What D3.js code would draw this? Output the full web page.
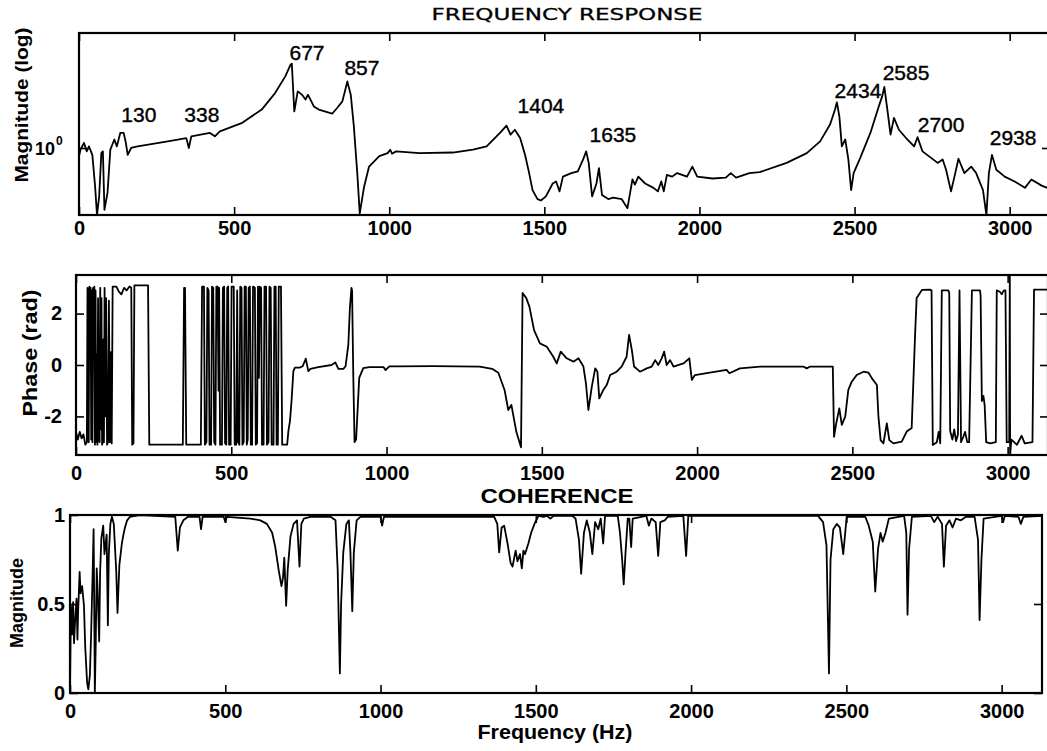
<!DOCTYPE html>
<html><head><meta charset="utf-8">
<script src="https://cdn.jsdelivr.net/npm/d3@7"></script>
<style>body{margin:0;background:#fff}svg{display:block}</style>
</head><body>
<svg id="chart" width="1047" height="751"></svg>
<script>
// ---------------- DATA ----------------
const freqTicks = [0, 500, 1000, 1500, 2000, 2500, 3000];
const phaseTicks = [-2, 0, 2];
const coherenceTicks = [0, 0.5, 1];
const magnitudeTicks = [1];

// Frequency response magnitude [Hz, magnitude]
const magnitude = [
 [0,0.86],[5,0.97],[16,1.10],[25,0.94],[32,1.03],[43,0.88],[52,0.49],[58,0.29],[65,0.41],[72,0.91],
 [77,0.94],[82,0.32],[92,0.44],[101,0.97],[114,1.17],[122,1.03],[133,1.32],[144,1.32],[151,1.10],[157,0.88],
 [168,1.0],[189,1.03],[286,1.13],[346,1.20],[354,1.0],[362,1.24],[422,1.32],[438,1.24],[454,1.36],[524,1.58],
 [589,2.03],[632,2.75],[665,3.74],[682,4.64],[686,4.73],[694,1.96],[705,2.84],[719,2.67],[730,2.44],[738,2.67],
 [757,2.15],[773,2.03],[816,1.88],[832,2.09],[849,2.36],[865,3.41],[876,2.67],[886,1.49],[897,0.63],[905,0.30],
 [919,0.49],[935,0.71],[968,0.86],[995,0.91],[1003,0.97],[1009,0.90],[1022,0.94],[1097,0.91],[1205,0.92],[1270,0.97],
 [1314,1.03],[1357,1.32],[1378,1.51],[1391,1.28],[1405,1.40],[1422,1.2],[1438,0.88],[1451,0.63],[1462,0.46],[1478,0.39],
 [1489,0.38],[1505,0.41],[1527,0.52],[1538,0.54],[1549,0.45],[1560,0.59],[1587,0.63],[1608,0.65],[1625,0.81],[1635,0.94],
 [1643,0.76],[1654,0.41],[1668,0.52],[1676,0.69],[1686,0.42],[1706,0.39],[1722,0.40],[1749,0.39],[1768,0.33],[1784,0.56],
 [1792,0.51],[1803,0.59],[1825,0.52],[1852,0.48],[1866,0.45],[1877,0.54],[1885,0.45],[1895,0.61],[1912,0.59],[1928,0.63],
 [1960,0.59],[1977,0.71],[1993,0.59],[2042,0.57],[2085,0.58],[2101,0.63],[2118,0.58],[2161,0.63],[2194,0.64],[2281,0.76],
 [2346,0.91],[2389,1.13],[2421,1.54],[2437,2.03],[2443,2.32],[2451,1.79],[2459,1.03],[2470,1.17],[2480,0.81],[2489,0.46],
 [2497,0.63],[2518,0.83],[2551,1.32],[2578,2.15],[2589,2.59],[2596,3.08],[2605,2.09],[2616,1.28],[2627,1.74],[2643,1.40],
 [2670,1.17],[2692,1.03],[2703,1.22],[2719,0.94],[2768,0.76],[2784,0.81],[2795,0.67],[2811,0.45],[2822,0.59],[2835,0.82],
 [2854,0.63],[2876,0.71],[2892,0.63],[2914,0.46],[2925,0.29],[2933,0.63],[2943,0.88],[2957,0.67],[2984,0.59],[3016,0.54],
 [3049,0.48],[3070,0.56],[3103,0.50],[3130,0.47]
];

// Peak annotations: label text and where it sits [Hz, magnitude]
const peakLabels = ["130","338","677","857","1404","1635","2434","2585","2700","2938"];
const peakLabelAt = [[193,1.61],[396,1.61],[735,5.06],[912,3.84],[1489,1.91],[1721,1.12],[2511,2.51],[2666,3.50],[2779,1.34],[3011,1.06]];

// Phase [Hz, rad]
const phase = [
 [0,-2.6],[6,-2.9],[12,-2.6],[18,-2.85],[24,-2.7],[30,-3.1],[35,-3.0],[37,3.0],[39,2.8],[41,-3.0],
 [43,3.05],[45,0.7],[47,3.0],[49,-2.9],[51,2.9],[53,-3.0],[55,3.0],[57,1.6],[59,3.05],[61,-3.1],
 [63,2.9],[65,-3.0],[67,0.4],[69,-3.1],[71,2.6],[73,-2.9],[76,-3.0],[78,3.0],[80,-2.5],[82,2.6],
 [84,-3.1],[86,-3.0],[88,1.0],[90,-3.0],[92,3.0],[94,-2.0],[97,2.6],[100,-3.1],[103,-3.0],[106,2.5],
 [109,-3.0],[112,0.5],[115,-3.05],[118,3.05],
 [130,3.05],[138,2.85],[146,2.75],[155,3.0],[163,2.9],[172,3.05],[178,3.0],[181,-3.1],[185,-3.05],
 [188,3.1],[232,3.1],[236,-3.1],[344,-3.1],[348,3.0],[351,3.0],[355,-3.1],[402,-3.1],
 [406,3.05],[412,3.05],[415,-3.1],[420,-3.0],[423,3.0],[427,2.9],[430,-3.1],[435,-3.1],[438,3.05],[442,3.0],
 [445,-3.0],[449,-3.1],[452,3.05],[456,3.05],[459,-1.0],[461,3.0],[464,-3.1],[470,-3.1],[473,3.0],[477,3.05],
 [480,-3.05],[484,-3.1],[487,3.0],[490,3.05],[493,-3.1],[498,-3.1],[501,3.05],[508,3.05],[511,-3.1],[516,-3.1],
 [519,2.9],[522,-3.0],[526,-3.1],[529,3.05],[533,3.0],[536,-3.1],[540,-3.0],[543,3.05],[547,3.05],[550,-3.1],
 [553,-2.9],[556,3.0],[560,3.05],[563,-3.1],[567,-3.1],[570,3.05],[576,3.0],[579,-3.1],[583,-3.05],[586,3.05],
 [589,-0.5],[592,3.05],[596,3.0],[599,-3.1],[604,-3.1],[607,3.05],[612,3.05],[615,-3.1],[620,-3.0],[623,3.05],
 [627,3.0],[630,-3.1],[636,-3.1],[639,3.05],[643,3.05],[646,-3.1],[650,-3.1],[653,3.05],[660,3.05],[664,-3.1],
 [680,-3.1],[684,-2.56],[689,-2.18],[694,-1.41],[700,-0.24],[705,-0.1],[720,-0.1],[730,-0.05],[740,0.25],[748,-0.24],
 [755,-0.15],[780,-0.08],[823,0.0],[835,0.1],[845,-0.15],[861,-0.15],[868,-0.05],[877,0.79],[882,2.22],[887,3.0],
 [889,2.9],[893,-0.5],[897,-3.0],[902,-2.9],[912,-0.5],[925,-0.12],[945,-0.08],[990,-0.08],[997,-0.2],[1003,-0.12],
 [1010,-0.05],[1030,-0.05],[1150,-0.04],[1300,-0.06],[1340,-0.15],[1360,-0.3],[1380,-0.97],[1392,-1.75],[1402,-1.55],[1418,-2.6],
 [1433,-3.2],[1438,2.8],[1450,2.6],[1460,2.27],[1475,1.36],[1494,0.84],[1516,0.71],[1537,0.32],[1548,0.06],[1561,0.52],
 [1580,0.26],[1602,0.13],[1618,0.26],[1634,-0.06],[1642,-0.71],[1650,-1.75],[1661,-0.84],[1672,-0.13],[1679,-0.26],[1685,-1.30],
 [1698,-0.97],[1709,-0.78],[1720,-0.39],[1741,-0.26],[1757,-0.06],[1773,0.32],[1781,1.17],[1790,0.58],[1797,-0.06],[1816,-0.26],
 [1838,-0.13],[1854,-0.06],[1865,0.19],[1875,0.0],[1886,0.26],[1894,0.52],[1902,0.0],[1913,0.19],[1924,-0.06],[1956,0.06],
 [1975,0.26],[1983,-0.58],[1993,-0.39],[2031,-0.32],[2095,-0.19],[2104,-0.32],[2138,-0.13],[2203,-0.06],[2342,-0.06],[2353,-0.13],
 [2364,-0.06],[2437,-0.06],[2441,-2.79],[2448,-2.27],[2458,-1.69],[2466,-2.33],[2477,-2.01],[2487,-0.97],[2498,-0.65],[2514,-0.39],
 [2536,-0.26],[2552,-0.30],[2563,-0.52],[2579,-0.78],[2584,-2.01],[2591,-2.92],[2600,-3.05],[2611,-2.27],[2619,-2.92],[2632,-3.05],
 [2659,-2.98],[2675,-2.59],[2691,-2.45],[2702,1.18],[2707,2.61],[2724,2.92],[2750,2.93],[2755,2.9],[2759,-3.11],[2772,-3.0],
 [2778,-2.6],[2783,-3.05],[2788,2.9],[2809,2.9],[2812,2.8],[2815,-2.57],[2822,-2.9],[2828,-2.5],[2834,-2.96],[2840,-2.7],
 [2845,2.9],[2850,-3.0],[2857,-2.8],[2863,-2.6],[2870,-3.0],[2876,-3.0],[2885,2.9],[2911,2.9],[2913,2.7],[2917,-1.4],
 [2922,-1.2],[2926,-1.56],[2931,-3.0],[2944,-3.05],[2962,-3.0],[2965,2.9],[2975,2.85],[2981,2.75],[2988,2.9],[2993,2.9],
 [2997,-3.0],[3005,-3.0],[3007,3.5],[3008,-3.5],[3012,-2.9],[3030,-3.1],[3045,-2.75],[3055,-3.05],[3080,-3.0],[3085,2.93],
 [3130,2.93]
];

// Coherence [Hz, value]
const coherence = [
 [0,0.02],[3,0.49],[7,0.33],[10,0.51],[13,0.28],[16,0.39],[21,0.53],[24,0.30],[26,0.45],[31,0.68],[34,0.56],[39,0.60],
 [45,0.49],[49,0.26],[55,0.06],[59,0.02],[64,0.10],[68,0.33],[73,0.68],[76,0.92],[78,0.49],[80,0.0],
 [83,0.29],[86,0.70],[89,0.58],[94,0.29],[97,0.68],[101,0.87],[107,0.94],[111,0.78],[118,0.89],[122,0.38],[125,0.78],
 [130,0.95],[135,0.99],[141,0.95],[149,0.68],[153,0.45],[159,0.72],[167,0.84],[172,0.89],[177,0.93],[184,0.97],
 [193,0.99],[224,1.0],[339,0.99],[347,0.80],[354,0.93],[365,0.97],[380,0.99],[417,0.99],[422,0.92],[427,0.99],
 [495,0.99],[500,0.96],[505,0.99],[581,0.98],[613,0.97],[634,0.95],[651,0.90],[661,0.82],[672,0.69],[681,0.60],
 [686,0.65],[690,0.76],[696,0.49],[701,0.69],[710,0.88],[720,0.95],[731,0.97],[739,0.71],[745,0.95],[753,0.98],
 [774,0.99],[839,0.99],[855,0.97],[862,0.69],[869,0.11],[873,0.50],[880,0.79],[890,0.95],[898,0.97],[903,0.79],
 [909,0.46],[914,0.79],[923,0.97],[935,0.99],[1000,0.99],[1005,0.94],[1011,0.99],[1366,0.99],[1376,0.95],[1382,0.79],
 [1390,0.93],[1398,0.94],[1409,0.84],[1419,0.73],[1425,0.71],[1435,0.80],[1441,0.74],[1449,0.78],[1455,0.70],[1460,0.80],
 [1465,0.78],[1476,0.84],[1485,0.90],[1498,0.96],[1509,0.995],[1525,0.99],[1535,0.995],[1547,0.98],[1557,0.995],[1617,0.995],
 [1628,0.98],[1639,0.86],[1646,0.67],[1655,0.90],[1664,0.97],[1674,0.90],[1682,0.78],[1691,0.96],[1701,0.92],[1709,0.98],
 [1717,0.84],[1723,0.995],[1764,0.995],[1771,0.90],[1778,0.75],[1783,0.61],[1789,0.79],[1796,0.98],[1801,0.98],[1807,0.82],
 [1812,0.98],[1856,0.995],[1864,0.94],[1872,0.98],[1886,0.96],[1894,0.77],[1901,0.96],[1915,0.97],[1925,0.99],[1975,0.995],
 [1984,0.77],[1991,0.995],[2409,0.995],[2425,0.96],[2436,0.83],[2444,0.11],[2449,0.75],[2458,0.92],[2469,0.95],[2479,0.93],
 [2490,0.78],[2501,0.99],[2561,0.99],[2572,0.94],[2585,0.85],[2593,0.57],[2602,0.81],[2610,0.90],[2617,0.85],[2626,0.90],
 [2637,0.98],[2686,0.995],[2693,0.90],[2697,0.44],[2702,0.81],[2711,0.99],[2772,0.995],[2783,0.96],[2794,0.99],[2808,0.95],
 [2814,0.71],[2821,0.94],[2832,0.97],[2842,0.93],[2853,0.98],[2869,0.97],[2885,0.99],[2913,0.99],[2924,0.86],[2929,0.41],
 [2935,0.75],[2942,0.98],[3000,0.995],[3005,0.96],[3010,0.995],[3054,0.99],[3062,0.95],[3070,0.99],[3130,0.995]
];

// ---------------- DRAWING ----------------
const FONT = '"Liberation Sans", Arial, Helvetica, sans-serif';
const svg = d3.select("#chart");
const freqDomain = [0, 3130];

const xTop = d3.scaleLinear().domain(freqDomain).range([79, 1050]);
const yTop = d3.scaleLog().domain([0.291, 8.32]).range([215, 33]);
const xMid = d3.scaleLinear().domain(freqDomain).range([76, 1048]);
const yMid = d3.scaleLinear().domain([-3.5, 3.5]).range([455, 275]);
const xBot = d3.scaleLinear().domain(freqDomain).range([70, 1042]);
const yBot = d3.scaleLinear().domain([0, 1]).range([693, 515]);

function panel(id, x, y, data, opts) {
  const [x0, x1] = x.range();
  const [y1, y0] = y.range();
  const g = svg.append("g");
  svg.append("clipPath").attr("id", "clip-" + id)
    .append("rect").attr("x", x0).attr("y", y0).attr("width", x1 - x0).attr("height", y1 - y0);

  g.append("path").datum(data)
    .attr("clip-path", `url(#clip-${id})`)
    .attr("fill", "none").attr("stroke", "#000").attr("stroke-width", 1.8)
    .attr("stroke-linejoin", "round")
    .attr("d", d3.line().x(d => x(d[0])).y(d => y(d[1])));

  const axB = g.append("g").attr("transform", `translate(0,${y1})`)
    .call(d3.axisBottom(x).tickValues(freqTicks).tickSizeInner(-8).tickSizeOuter(0)
      .tickPadding(opts.xPad).tickFormat(d3.format("d")));
  const axT = g.append("g").attr("transform", `translate(0,${y0})`)
    .call(d3.axisTop(x).tickValues(freqTicks).tickSizeInner(-8).tickSizeOuter(0).tickFormat(""));
  const axL = g.append("g").attr("transform", `translate(${x0},0)`)
    .call(d3.axisLeft(y).tickValues(opts.yTicks).tickSizeInner(-8).tickSizeOuter(0)
      .tickPadding(opts.yPad).tickFormat(opts.yFormat));
  const axR = g.append("g").attr("transform", `translate(${x1},0)`)
    .call(d3.axisRight(y).tickValues(opts.yTicks).tickSizeInner(-8).tickSizeOuter(0).tickFormat(""));
  [axB, axT, axL, axR].forEach(a => {
    a.select(".domain").remove();
    a.selectAll("line").attr("stroke", "#000").attr("stroke-width", 1.6);
    a.selectAll("text").attr("font-family", FONT).attr("font-size", 20)
      .attr("font-weight", "bold").attr("fill", "#000");
  });

  g.append("rect").attr("x", x0).attr("y", y0).attr("width", x1 - x0).attr("height", y1 - y0)
    .attr("fill", "none").attr("stroke", "#000").attr("stroke-width", 2.2);
  return g;
}

// Top: frequency response magnitude (log)
const gTop = panel("top", xTop, yTop, magnitude, {xPad: 6, yPad: 10, yTicks: magnitudeTicks, yFormat: () => ""});
gTop.append("text").attr("x", 55).attr("y", 155)
  .attr("text-anchor", "end").attr("font-family", FONT).attr("font-size", 18).attr("font-weight", "bold").text("10");
gTop.append("text").attr("x", 56).attr("y", 145).attr("font-family", FONT)
  .attr("font-size", 12).attr("font-weight", "bold").text("0");

gTop.selectAll(".peak").data(peakLabels).join("text").attr("class", "peak")
  .attr("x", (d, i) => xTop(peakLabelAt[i][0]))
  .attr("y", (d, i) => yTop(peakLabelAt[i][1]))
  .attr("text-anchor", "middle").attr("font-family", FONT).attr("font-size", 21)
  .attr("fill", "#000").attr("stroke", "#000").attr("stroke-width", 0.4).text(d => d);

// Middle: phase
panel("mid", xMid, yMid, phase, {xPad: 11, yPad: 14, yTicks: phaseTicks, yFormat: d => d < 0 ? "-" + Math.abs(d) : String(d)});

// Bottom: coherence
panel("bot", xBot, yBot, coherence, {xPad: 11, yPad: 5, yTicks: coherenceTicks, yFormat: d => String(d)});

// Titles and axis labels
function label(txt, x, y, opts) {
  const t = svg.append("text").attr("x", x).attr("y", y).attr("font-family", opts.family || FONT)
    .attr("font-size", opts.size).attr("font-weight", opts.bold ? "bold" : "normal")
    .attr("text-anchor", "middle").attr("fill", "#000").text(txt);
  if (opts.len) t.attr("textLength", opts.len).attr("lengthAdjust", "spacingAndGlyphs");
  if (opts.rotate) t.attr("transform", `rotate(-90,${x},${y})`);
  if (opts.stroke) t.attr("stroke", "#000").attr("stroke-width", opts.stroke);
  return t;
}
label("FREQUENCY RESPONSE", 567, 20, {size: 16, len: 271, family: '"DejaVu Sans", Verdana, sans-serif', stroke: 0.3});
label("COHERENCE", 557, 503, {size: 20, bold: true, len: 153});
label("Frequency (Hz)", 555, 739, {size: 20, bold: true, len: 155});
label("Magnitude (log)", 28, 105, {size: 19, bold: true, len: 155, rotate: true});
label("Phase (rad)", 37, 353, {size: 20, bold: true, len: 127, rotate: true});
label("Magnitude", 23, 603, {size: 19, bold: true, len: 90, rotate: true});
</script>
</body></html>
